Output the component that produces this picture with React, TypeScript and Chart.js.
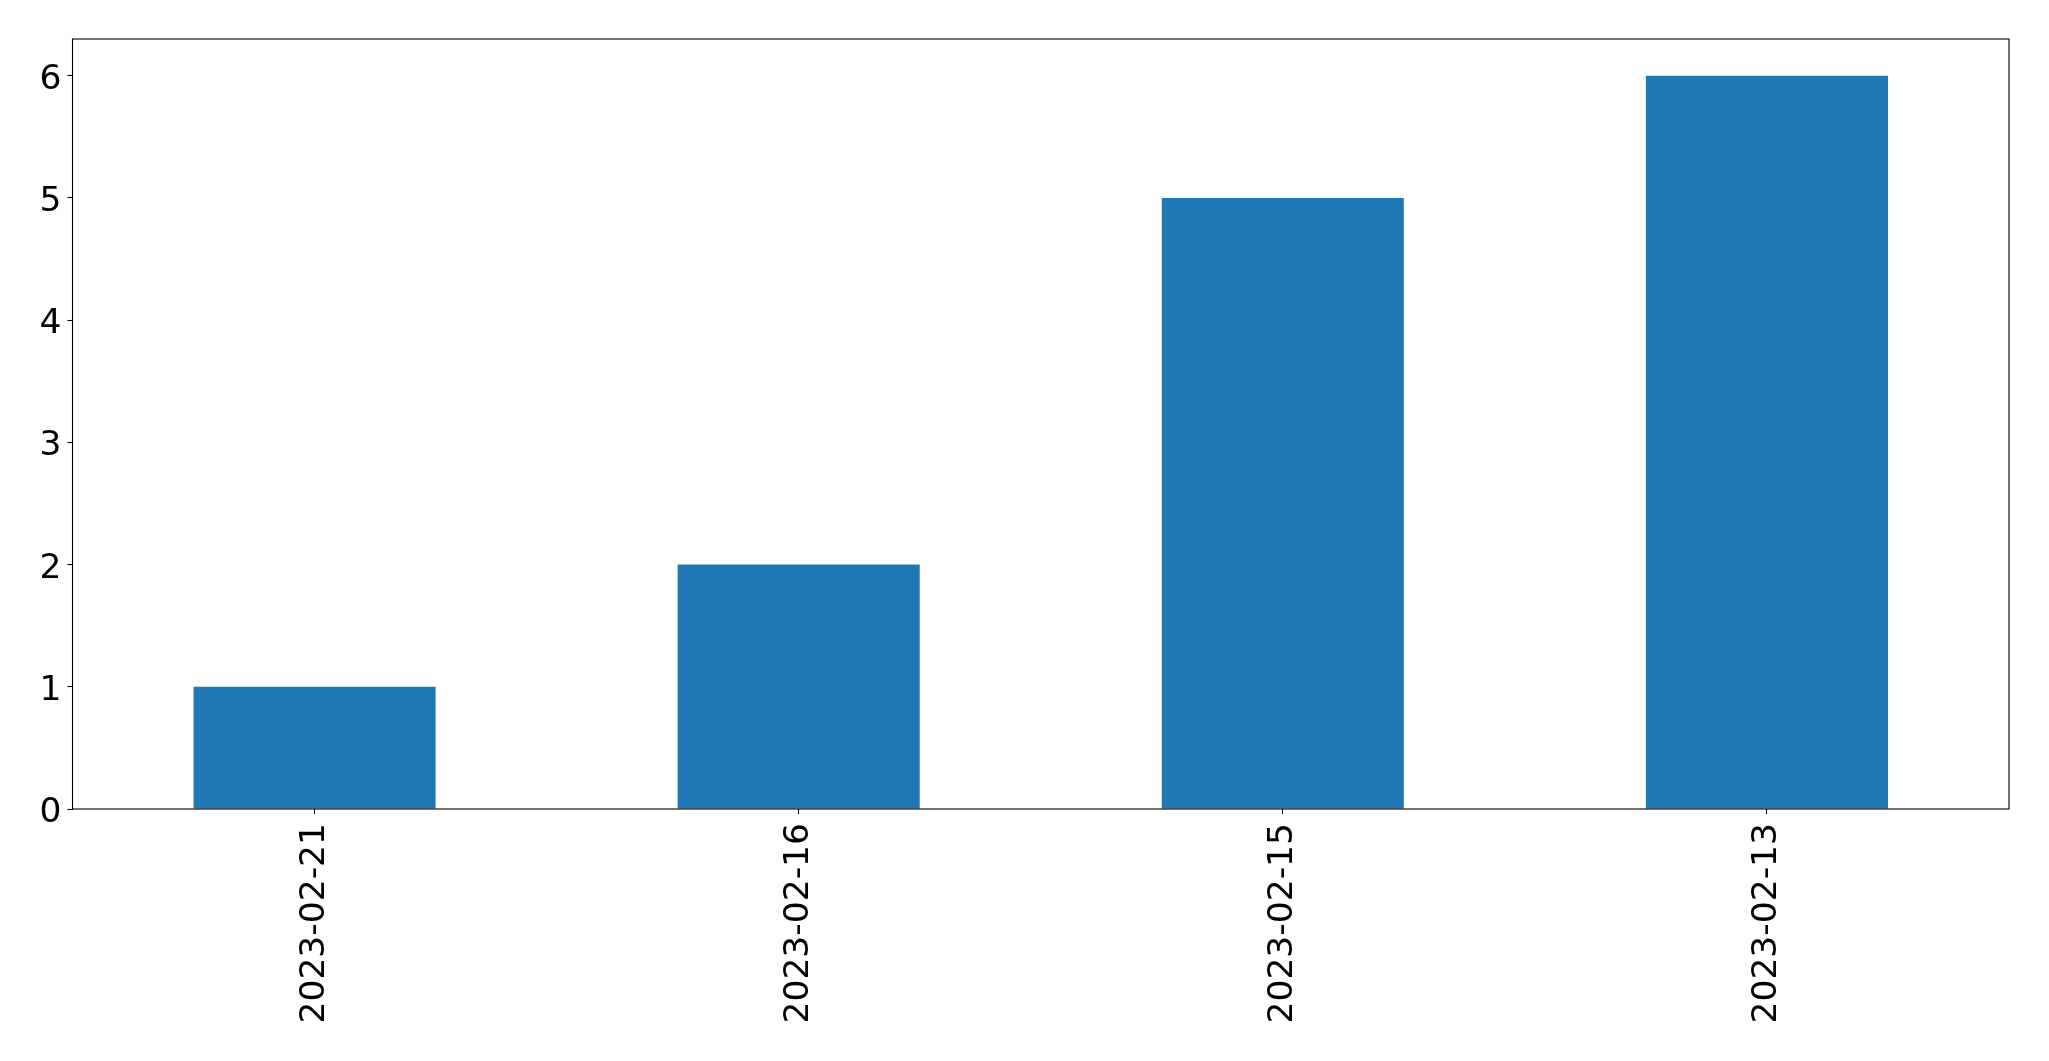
import React, { useEffect, useRef } from "react";
import { Chart, registerables } from "chart.js";

Chart.register(...registerables);

const categories = ["2023-02-21", "2023-02-16", "2023-02-15", "2023-02-13"];
const counts = [1, 2, 5, 6];
const yTicks = [0, 1, 2, 3, 4, 5, 6];

const frame = {
  id: "frame",
  afterDraw(chart: any) {
    const { ctx, chartArea } = chart;
    ctx.save();
    ctx.strokeStyle = "#000";
    ctx.lineWidth = 1.1;
    ctx.strokeRect(chartArea.left, chartArea.top, chartArea.right - chartArea.left, chartArea.bottom - chartArea.top);
    ctx.restore();
  },
};

export default function App() {
  const ref = useRef<HTMLCanvasElement>(null);
  useEffect(() => {
    document.body.style.margin = "0";
    const chart = new Chart(ref.current!, {
      type: "bar",
      data: {
        labels: categories,
        datasets: [
          {
            data: counts,
            backgroundColor: "#1f77b4",
            barPercentage: 0.5,
            categoryPercentage: 1,
          },
        ],
      },
      options: {
        animation: false,
        responsive: false,
        layout: { padding: { left: 0, right: 40, top: 39, bottom: 0 } },
        plugins: { legend: { display: false }, tooltip: { enabled: false } },
        scales: {
          x: {
            offset: true,
            grid: { offset: false, drawOnChartArea: false, tickLength: 5, color: "#000", tickWidth: 1.1 },
            border: { display: false },
            ticks: {
              minRotation: 90,
              maxRotation: 90,
              padding: 9,
              color: "#000",
              font: { family: "DejaVu Sans", size: 34.5 },
            },
            afterFit: (s: any) => {
              s.height = 252;
            },
          },
          y: {
            min: 0,
            max: 6.3,
            grid: { drawOnChartArea: false, tickLength: 5, color: "#000", tickWidth: 1.1 },
            border: { display: false },
            ticks: {
              stepSize: 1,
              padding: 6,
              labelOffset: 4,
              color: "#000",
              font: { family: "DejaVu Sans", size: 34.5 },
            },
            afterBuildTicks: (s: any) => {
              s.ticks = yTicks.map((v) => ({ value: v }));
            },
            afterFit: (s: any) => {
              s.width = 72.5;
            },
          },
        },
      },
      plugins: [frame],
    });
    return () => chart.destroy();
  }, []);
  return <canvas ref={ref} width={2049} height={1061} style={{ display: "block" }} />;
}
